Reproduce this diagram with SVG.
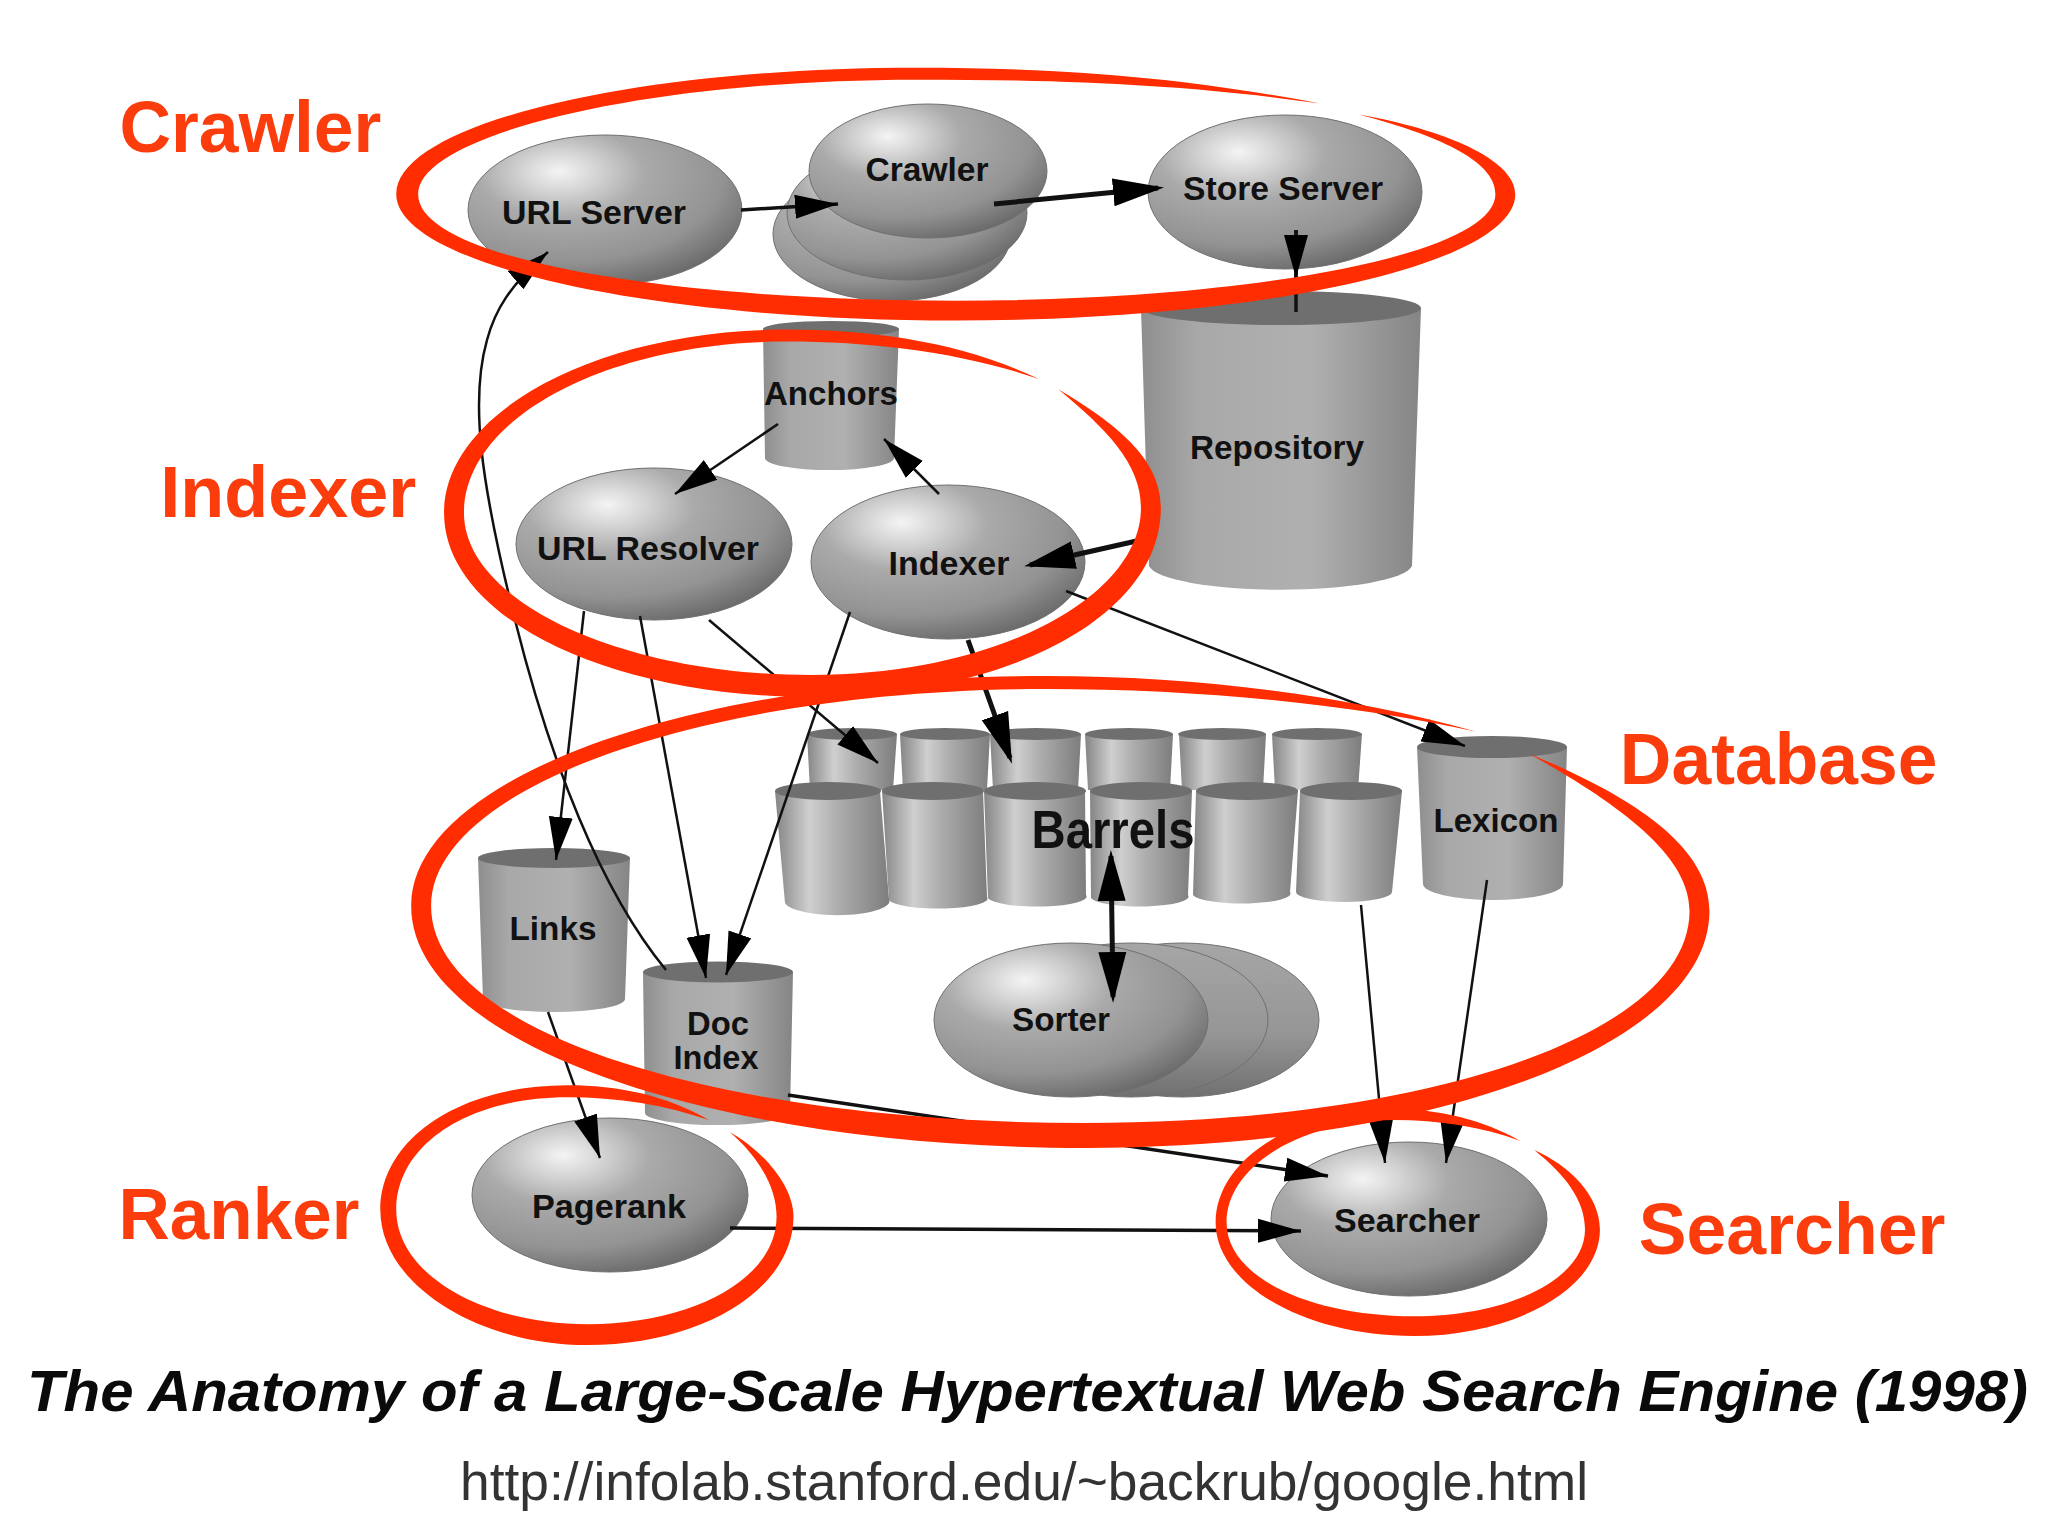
<svg xmlns="http://www.w3.org/2000/svg" width="2048" height="1536" viewBox="0 0 2048 1536">
<style>
.lb{font-family:"Liberation Sans",Arial,sans-serif;font-weight:700;font-size:33px;fill:#111;text-anchor:middle}
.hd{font-family:"Liberation Sans",Arial,sans-serif;font-weight:700;font-size:72px;fill:#fb3c0c}
.ball{fill:url(#ball);stroke:#707070;stroke-width:1}
.back{fill:url(#back);stroke:#707070;stroke-width:1}
.cyl{fill:url(#cyl)}
.bar{fill:url(#bar)}
.top{fill:#6f6f6f}
.c{fill:none;stroke:#111;stroke-width:2.5}
.a{marker-end:url(#ah)}
.b{marker-end:url(#ahb)}
.t{stroke-width:5}
.m{stroke-width:3.5}
.loop{fill:#ff2d00}
</style>
<defs>
<radialGradient id="ball" cx="0.36" cy="0.28" r="0.8" fx="0.33" fy="0.24">
<stop offset="0" stop-color="#f4f4f4"/><stop offset="0.18" stop-color="#d2d2d2"/><stop offset="0.38" stop-color="#aaaaaa"/><stop offset="0.72" stop-color="#939393"/><stop offset="1" stop-color="#626262"/>
</radialGradient>
<linearGradient id="back" x1="0" y1="0" x2="0" y2="1">
<stop offset="0" stop-color="#a6a6a6"/><stop offset="0.6" stop-color="#959595"/><stop offset="1" stop-color="#707070"/>
</linearGradient>
<linearGradient id="cyl" x1="0" y1="0" x2="1" y2="0">
<stop offset="0" stop-color="#8e8e8e"/><stop offset="0.2" stop-color="#a8a8a8"/><stop offset="0.6" stop-color="#b0b0b0"/><stop offset="1" stop-color="#858585"/>
</linearGradient>
<linearGradient id="bar" x1="0" y1="0" x2="1" y2="0">
<stop offset="0" stop-color="#858585"/><stop offset="0.3" stop-color="#cfcfcf"/><stop offset="0.55" stop-color="#adadad"/><stop offset="1" stop-color="#7d7d7d"/>
</linearGradient>
<marker id="ah" markerUnits="userSpaceOnUse" markerWidth="44" markerHeight="26" refX="43" refY="13" orient="auto-start-reverse">
<path d="M0 1L43 13L0 25Z" fill="#000"/>
</marker>
<marker id="ahb" markerUnits="userSpaceOnUse" markerWidth="52" markerHeight="30" refX="45" refY="15" orient="auto-start-reverse">
<path d="M0 1L51 15L0 29Z" fill="#000"/>
</marker>
</defs>
<rect width="2048" height="1536" fill="#fff"/>

<g id="crawler">
<ellipse class="ball" cx="892" cy="234" rx="119" ry="67"/>
<ellipse class="ball" cx="907" cy="213" rx="120" ry="67"/>
<ellipse class="ball" cx="928" cy="171" rx="119" ry="67"/>
<text class="lb" x="927" y="181" textLength="123" lengthAdjust="spacingAndGlyphs">Crawler</text>
</g>
<g id="url-server">
<ellipse class="ball" cx="605" cy="210" rx="137" ry="75"/>
<text class="lb" x="594" y="224" textLength="184" lengthAdjust="spacingAndGlyphs">URL Server</text>
</g>
<g id="store-server">
<ellipse class="ball" cx="1285" cy="192" rx="137" ry="77"/>
<text class="lb" x="1283" y="200" textLength="200" lengthAdjust="spacingAndGlyphs">Store Server</text>
</g>
<g id="repository">
<path class="cyl" d="M1141 308L1149 566A132 26 0 0 0 1412 566L1421 308Z"/>
<ellipse class="top" cx="1281" cy="308" rx="140" ry="17"/>
<text class="lb" x="1277" y="459" textLength="174" lengthAdjust="spacingAndGlyphs">Repository</text>
</g>
<g id="anchors">
<path class="cyl" d="M763 329L765 458A64 12 0 0 0 894 458L899 329Z"/>
<ellipse class="top" cx="831" cy="329" rx="68" ry="8"/>
<text class="lb" x="831" y="405" textLength="134" lengthAdjust="spacingAndGlyphs">Anchors</text>
</g>
<g id="url-resolver">
<ellipse class="ball" cx="654" cy="544" rx="138" ry="76"/>
<text class="lb" x="648" y="560" textLength="222" lengthAdjust="spacingAndGlyphs">URL Resolver</text>
</g>
<g id="indexer">
<ellipse class="ball" cx="948" cy="562" rx="137" ry="77"/>
<text class="lb" x="949" y="575" textLength="121" lengthAdjust="spacingAndGlyphs">Indexer</text>
</g>
<g id="links">
<path class="cyl" d="M478 858L483 999A71 13 0 0 0 625 999L630 858Z"/>
<ellipse class="top" cx="554" cy="858" rx="76" ry="10"/>
<text class="lb" x="553" y="940" textLength="87" lengthAdjust="spacingAndGlyphs">Links</text>
</g>
<g id="doc-index">
<path class="cyl" d="M643 972L645 1113A72 12 0 0 0 790 1113L793 972Z"/>
<ellipse class="top" cx="718" cy="972" rx="75" ry="10.5"/>
<text class="lb" x="718" y="1035" textLength="62" lengthAdjust="spacingAndGlyphs">Doc</text>
<text class="lb" x="716" y="1069" textLength="85" lengthAdjust="spacingAndGlyphs">Index</text>
</g>
<g id="barrels">
<path class="bar" d="M807 734L810 790H893L897 734Z"/><ellipse class="top" cx="852" cy="734" rx="45" ry="6"/>
<path class="bar" d="M900 734L903 790H987L990 734Z"/><ellipse class="top" cx="945" cy="734" rx="45" ry="6"/>
<path class="bar" d="M990 734L993 790H1078L1081 734Z"/><ellipse class="top" cx="1036" cy="734" rx="45" ry="6"/>
<path class="bar" d="M1085 734L1088 790H1170L1173 734Z"/><ellipse class="top" cx="1129" cy="734" rx="44" ry="6"/>
<path class="bar" d="M1179 734L1182 790H1263L1266 734Z"/><ellipse class="top" cx="1222" cy="734" rx="44" ry="6"/>
<path class="bar" d="M1272 734L1275 790H1358L1362 734Z"/><ellipse class="top" cx="1317" cy="734" rx="45" ry="6"/>
<path class="bar" d="M775 791L785 903A52 14 0 0 0 889 899L880 791Z"/><ellipse class="top" cx="828" cy="791" rx="53" ry="9"/>
<path class="bar" d="M882 791L889 900A49 10 0 0 0 987 897L983 791Z"/><ellipse class="top" cx="933" cy="791" rx="51" ry="9"/>
<path class="bar" d="M984 791L988 898A49 10 0 0 0 1086 895L1085 791Z"/><ellipse class="top" cx="1035" cy="791" rx="51" ry="9"/>
<path class="bar" d="M1090 791L1091 898A49 10 0 0 0 1188 895L1192 791Z"/><ellipse class="top" cx="1141" cy="791" rx="51" ry="9"/>
<path class="bar" d="M1196 791L1193 895A49 10 0 0 0 1290 892L1298 791Z"/><ellipse class="top" cx="1247" cy="791" rx="51" ry="9"/>
<path class="bar" d="M1300 791L1296 892A48 10 0 0 0 1392 892L1402 791Z"/><ellipse class="top" cx="1351" cy="791" rx="51" ry="9"/>
<text class="lb" style="font-size:54px" x="1113" y="848" textLength="163" lengthAdjust="spacingAndGlyphs">Barrels</text>
</g>
<g id="lexicon">
<path class="cyl" d="M1417 747L1423 884A70 16 0 0 0 1563 884L1567 747Z"/>
<ellipse class="top" cx="1492" cy="747" rx="75" ry="11"/>
<text class="lb" x="1496" y="832" textLength="125" lengthAdjust="spacingAndGlyphs">Lexicon</text>
</g>
<g id="sorter">
<ellipse class="back" cx="1182" cy="1020" rx="137" ry="77"/>
<ellipse class="back" cx="1131" cy="1020" rx="137" ry="77"/>
<ellipse class="ball" cx="1071" cy="1020" rx="137" ry="77"/>
<text class="lb" x="1061" y="1031" textLength="98" lengthAdjust="spacingAndGlyphs">Sorter</text>
</g>
<g id="pagerank">
<ellipse class="ball" cx="610" cy="1195" rx="138" ry="77"/>
<text class="lb" x="609" y="1218" textLength="154" lengthAdjust="spacingAndGlyphs">Pagerank</text>
</g>
<g id="searcher">
<ellipse class="ball" cx="1409" cy="1219" rx="138" ry="77"/>
<text class="lb" x="1407" y="1232" textLength="146" lengthAdjust="spacingAndGlyphs">Searcher</text>
</g>

<g id="connectors">
<line class="c a m" x1="741" y1="210" x2="838" y2="204"/>
<line class="c b t" x1="994" y1="204" x2="1158" y2="188"/>
<path class="c m" d="M1296 230V312"/>
<line class="c a m" x1="1296" y1="230" x2="1296" y2="278"/>
<line class="c a" x1="778" y1="424" x2="675" y2="494"/>
<line class="c a" x1="939" y1="494" x2="884" y2="439"/>
<line class="c b t" x1="1141" y1="540" x2="1030" y2="565"/>
<line class="c a" x1="1066" y1="591" x2="1465" y2="746"/>
<line class="c b t" x1="968" y1="640" x2="1010" y2="758"/>
<line class="c a" x1="850" y1="612" x2="726" y2="975"/>
<line class="c a" x1="709" y1="620" x2="878" y2="763"/>
<line class="c a" x1="584" y1="611" x2="556" y2="860"/>
<line class="c a" x1="640" y1="616" x2="706" y2="978"/>
<path class="c a" d="M666 970C600 890 550 760 515 620C480 480 470 400 487 340C495 310 510 285 548 252"/>
<line class="c a" x1="548" y1="1012" x2="600" y2="1158"/>
<line class="c a m" x1="788" y1="1095" x2="1328" y2="1176"/>
<line class="c a m" x1="730" y1="1228" x2="1301" y2="1231"/>
<line class="c t" style="marker-start:url(#ahb);marker-end:url(#ahb)" x1="1111" y1="856" x2="1113" y2="997"/>
<line class="c a" x1="1361" y1="905" x2="1385" y2="1163"/>
<line class="c a" x1="1487" y1="880" x2="1446" y2="1163"/>
</g>

<g id="loops" transform="scale(0.9956)">
<path class="loop" d="M1326 104C1200 80 1080 68 920 68C633 68 398 125 398 195C398 265 651 322 960 322C1269 322 1522 265 1522 195C1522 160 1450 130 1365 115C1440 135 1502 160 1502 195C1502 255 1260 302 960 302C670 302 420 260 420 195C420 135 650 80 920 80C1080 80 1200 86 1326 104Z"/>
<path class="loop" d="M1044 381C970 345 880 331 790 331C600 331 446 414 446 515C446 620 610 700 815 700C1010 700 1166 620 1166 510C1166 460 1120 425 1063 391C1110 430 1146 465 1146 510C1146 600 1000 678 815 678C625 678 466 605 466 515C466 420 610 343 790 343C880 343 970 355 1044 381Z"/>
<path class="loop" d="M1483 735C1360 700 1210 679 1050 679C700 679 413 780 413 910C413 1050 720 1153 1090 1153C1440 1153 1717 1050 1717 915C1717 850 1640 800 1536 757C1630 810 1697 860 1697 915C1697 1040 1430 1128 1090 1128C730 1128 433 1040 433 910C433 790 710 692 1050 692C1210 692 1360 708 1483 735Z"/>
<path class="loop" d="M712 1125C670 1100 620 1090 570 1090C460 1090 382 1145 382 1215C382 1290 480 1351 590 1351C705 1351 797 1295 797 1222C797 1190 765 1155 733 1137C765 1165 780 1195 780 1222C780 1285 695 1330 590 1330C485 1330 398 1280 398 1215C398 1150 470 1102 570 1102C620 1102 670 1110 712 1125Z"/>
<path class="loop" d="M1527 1146C1490 1125 1445 1114 1400 1114C1300 1114 1221 1165 1221 1228C1221 1290 1310 1342 1420 1342C1520 1342 1607 1295 1607 1235C1607 1200 1575 1170 1541 1155C1572 1180 1592 1205 1592 1235C1592 1285 1515 1322 1420 1322C1320 1322 1232 1285 1232 1228C1232 1170 1310 1125 1400 1125C1445 1125 1490 1132 1527 1146Z"/>
</g>

<g id="headings" transform="scale(0.9956)">
<text class="hd" x="120" y="153" textLength="263" lengthAdjust="spacingAndGlyphs">Crawler</text>
<text class="hd" x="161" y="519" textLength="257" lengthAdjust="spacingAndGlyphs">Indexer</text>
<text class="hd" x="1627" y="787" textLength="319" lengthAdjust="spacingAndGlyphs">Database</text>
<text class="hd" x="119" y="1244" textLength="242" lengthAdjust="spacingAndGlyphs">Ranker</text>
<text class="hd" x="1646" y="1260" textLength="308" lengthAdjust="spacingAndGlyphs">Searcher</text>
</g>
<text x="27" y="1411" font-family="'Liberation Sans',Arial,sans-serif" font-weight="700" font-style="italic" font-size="58" fill="#0a0a0a" textLength="2001" lengthAdjust="spacingAndGlyphs">The Anatomy of a Large-Scale Hypertextual Web Search Engine (1998)</text>
<text x="460" y="1500" font-family="'Liberation Sans',Arial,sans-serif" font-size="54" fill="#333" textLength="1128" lengthAdjust="spacingAndGlyphs">http://infolab.stanford.edu/~backrub/google.html</text>
</svg>
